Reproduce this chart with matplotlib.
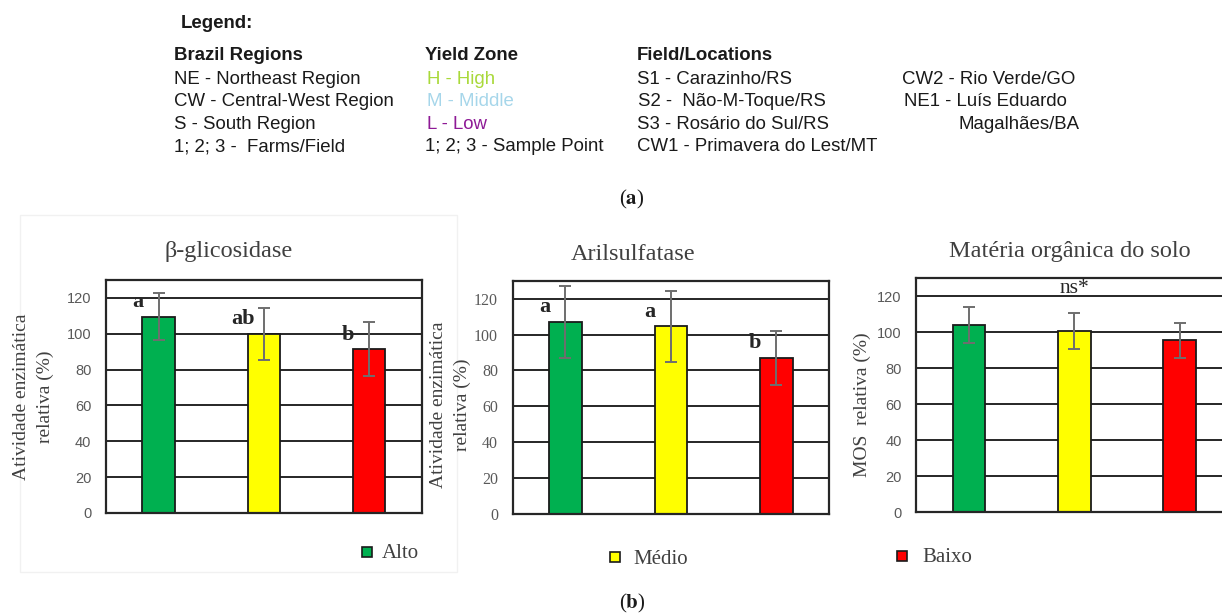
import matplotlib
matplotlib.use("Agg")
import matplotlib.pyplot as plt
from matplotlib.lines import Line2D
from matplotlib.patches import Rectangle

# ---- data -------------------------------------------------------------
zones = ["Alto", "Médio", "Baixo"]
zone_colors = ["#00b050", "#ffff00", "#ff0000"]

beta_mean = [109.5, 100.0, 91.5]
beta_err = [13.0, 14.5, 15.0]
beta_letters = ["a", "ab", "b"]

aril_mean = [107.0, 104.5, 87.0]
aril_err = [20.0, 20.0, 15.0]
aril_letters = ["a", "a", "b"]

mos_mean = [104.0, 101.0, 95.5]
mos_err = [10.0, 10.0, 9.5]
mos_note = "ns*"

yticks = [0, 20, 40, 60, 80, 100, 120]

legend_regions = ["Brazil Regions", "NE - Northeast Region", "CW - Central-West Region",
                  "S - South Region", "1; 2; 3 -  Farms/Field"]
legend_yield = ["Yield Zone", "H - High", "M - Middle", "L - Low", "1; 2; 3 - Sample Point"]
legend_fields = ["Field/Locations", "S1 - Carazinho/RS", "S2 -  Não-M-Toque/RS",
                 "S3 - Rosário do Sul/RS", "CW1 - Primavera do Lest/MT"]
legend_fields2 = ["CW2 - Rio Verde/GO", "NE1 - Luís Eduardo", "Magalhães/BA"]

# ---- figure -------------------------------------------------------------
W, H = 1222, 615
fig = plt.figure(figsize=(W / 100, H / 100), dpi=100)
fig.patch.set_facecolor("white")


def fx(x):
    return x / W


def fy(y):
    return 1 - y / H


SERIF = ["Liberation Serif", "DejaVu Serif"]
SANS = ["Liberation Sans", "DejaVu Sans"]
TXT = "#404040"
LEG_FS = 13.4

# ---- panel (a): text legend -------------------------------------------
fig.text(fx(181), fy(24), "Legend:", family=SANS, fontsize=LEG_FS, fontweight="bold",
         color="#1a1a1a", va="center", ha="left")

row_y = [55, 79, 101.7, 124.3, 146.7]
yield_colors = ["#1a1a1a", "#a9d93a", "#a6d6ea", "#8e1a96", "#1a1a1a"]
for i, (t, y) in enumerate(zip(legend_regions, row_y)):
    fig.text(fx(174), fy(y), t, family=SANS, fontsize=LEG_FS,
             fontweight="bold" if i == 0 else "normal", color="#1a1a1a", va="center")
for i, (t, y) in enumerate(zip(legend_yield, row_y)):
    x = 425 if i in (0, 4) else 427
    fig.text(fx(x), fy(y), t, family=SANS, fontsize=LEG_FS,
             fontweight="bold" if i == 0 else "normal", color=yield_colors[i], va="center")
for i, (t, y) in enumerate(zip(legend_fields, row_y)):
    x = 638 if i == 2 else 637
    fig.text(fx(x), fy(y), t, family=SANS, fontsize=LEG_FS,
             fontweight="bold" if i == 0 else "normal", color="#1a1a1a", va="center")
for t, x, y in zip(legend_fields2, [902, 904, 958], row_y[1:4]):
    fig.text(fx(x), fy(y), t, family=SANS, fontsize=LEG_FS, color="#1a1a1a", va="center")

fig.text(fx(632), fy(199), r"($\mathbf{a}$)", family=SERIF, fontsize=15,
         ha="center", va="center", color="#1a1a1a", math_fontfamily="stix")
fig.text(fx(632), fy(603), r"($\mathbf{b}$)", family=SERIF, fontsize=15,
         ha="center", va="center", color="#1a1a1a", math_fontfamily="stix")

# faint outline around the first chart panel
fig.add_artist(Rectangle((fx(20), fy(572)), fx(457) - fx(20), fy(215) - fy(572),
                         transform=fig.transFigure, fill=False, edgecolor="#f1f1f1", lw=1))

# ---- panel (b): three bar charts --------------------------------------
panels = [
    dict(box=(106, 280, 421.7, 513), mean=beta_mean, err=beta_err, letters=beta_letters,
         title="β-glicosidase", title_xy=(229, 252),
         ylabel="Atividade enzimática\nrelativa (%)", ylabel_xy=(33.5, 397),
         tickfont=SANS, tickfs=10.5, legend=(366.7, 552, 382, 553)),
    dict(box=(512.7, 280.7, 829, 514), mean=aril_mean, err=aril_err, letters=aril_letters,
         title="Arilsulfatase", title_xy=(633, 255),
         ylabel="Atividade enzimática\nrelativa (%)", ylabel_xy=(450.5, 405),
         tickfont=SERIF, tickfs=11.5, legend=(615, 557, 633, 560)),
    dict(box=(916.3, 278.3, 1232.3, 512.3), mean=mos_mean, err=mos_err, letters=None,
         title="Matéria orgânica do solo", title_xy=(1070, 252),
         ylabel="MOS  relativa (%)", ylabel_xy=(862, 405),
         tickfont=SANS, tickfs=10.5, legend=(901.7, 556, 922, 558)),
]

x = list(range(len(zones)))
for k, p in enumerate(panels):
    l, t, r, b = p["box"]
    ax = fig.add_axes([fx(l), fy(b), (r - l) / W, (b - t) / H])
    ax.set_xlim(-0.5, 2.5)
    ax.set_ylim(0, 130)
    for yv in yticks[1:]:
        ax.axhline(yv, color="#262626", lw=1.4, zorder=1)
    ax.bar(x, p["mean"], width=0.31, color=zone_colors, edgecolor="#1a1a1a",
           linewidth=1.3, zorder=2)
    ax.errorbar(x, p["mean"], yerr=p["err"], fmt="none", ecolor="#6e6e6e",
                elinewidth=1.4, capsize=4, capthick=1.4, zorder=3)
    if p["letters"] is not None:
        for xi, m, lab in zip(x, p["mean"], p["letters"]):
            ax.text(xi - 0.2, m + 2.5, lab, family=SERIF, fontsize=16, fontweight="bold",
                    color="#262626", ha="center", va="bottom", zorder=4)
    else:
        ax.text(1, 121.8, mos_note, family=SERIF, fontsize=15.5, color="#262626",
                ha="center", va="baseline", zorder=4)
    for s in ax.spines.values():
        s.set_color("#262626")
        s.set_linewidth(1.6)
    ax.set_xticks([])
    ax.set_yticks(yticks)
    ax.tick_params(axis="y", length=0, pad=10.5, labelsize=p["tickfs"], labelcolor="#595959")
    for lab in ax.get_yticklabels():
        lab.set_family(p["tickfont"])

    fig.text(fx(p["title_xy"][0]), fy(p["title_xy"][1]), p["title"], family=SERIF,
             fontsize=17.5, color=TXT, ha="center", va="center")
    fig.text(fx(p["ylabel_xy"][0]), fy(p["ylabel_xy"][1]), p["ylabel"], family=SERIF,
             fontsize=14, color=TXT, ha="center", va="center", rotation=90,
             multialignment="center", linespacing=1.5)

    mx, my, tx, ty = p["legend"]
    fig.add_artist(Line2D([fx(mx)], [fy(my)], marker="s", markersize=6.5,
                          markerfacecolor=zone_colors[k], markeredgecolor="#1a1a1a",
                          markeredgewidth=1.2, linestyle="none", transform=fig.transFigure))
    fig.text(fx(tx), fy(ty), zones[k], family=SERIF, fontsize=15, color=TXT,
             ha="left", va="center")

fig.savefig("out.png", dpi=100)
